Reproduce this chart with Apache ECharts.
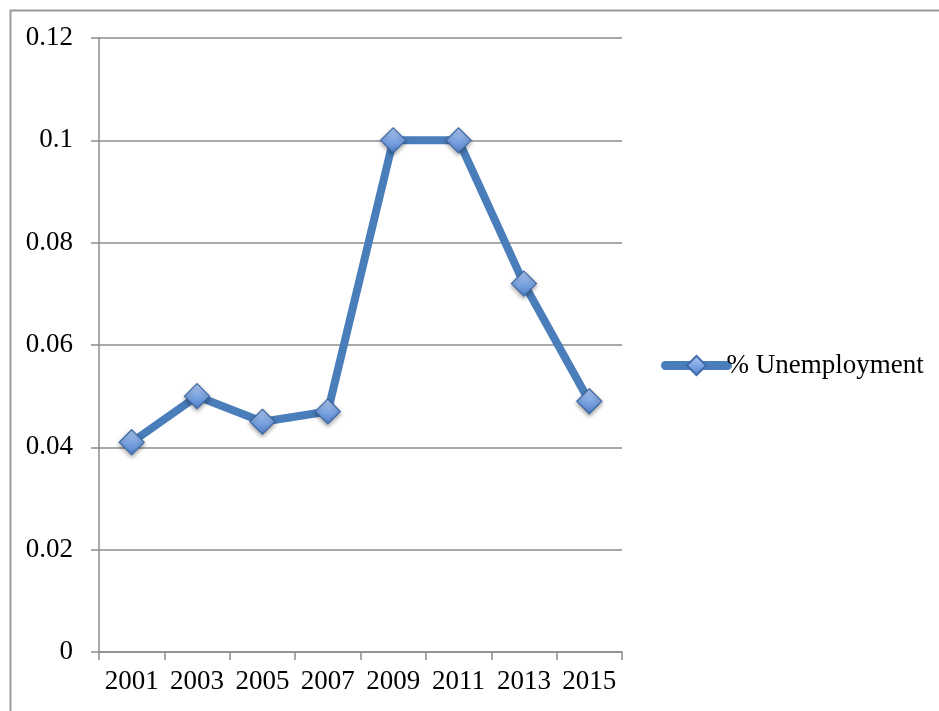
<!DOCTYPE html>
<html><head><meta charset="utf-8">
<script src="https://cdn.jsdelivr.net/npm/echarts@6/dist/echarts.min.js"></script>
<style>html,body{margin:0;padding:0;background:#fff}#c{width:939px;height:711px}</style>
</head><body><div id="c"></div>
<script>
const years = ['2001','2003','2005','2007','2009','2011','2013','2015'];
const unemployment = [0.041, 0.050, 0.045, 0.047, 0.100, 0.100, 0.072, 0.049];
const seriesName = '% Unemployment';
const yTicks = {min: 0, max: 0.12, interval: 0.02};

const font = 'Liberation Serif';
const chart = echarts.init(document.getElementById('c'), null, {renderer: 'canvas'});
const markerFill = new echarts.graphic.LinearGradient(0, 0, 0, 1, [
  {offset: 0, color: '#b4cff5'},
  {offset: 0.5, color: '#7ea6e3'},
  {offset: 1, color: '#4f7fc8'}
]);
chart.setOption({
  backgroundColor: '#fff',
  animation: false,
  graphic: [{
    type: 'rect', left: 8, top: 8, silent: true,
    shape: {width: 960, height: 740},
    style: {fill: 'none', stroke: '#9a9a9a', lineWidth: 2}
  }],
  grid: {left: 99, right: 317, top: 38, bottom: 59},
  legend: {
    left: 656, top: 347,
    itemWidth: 62, itemHeight: 24, itemGap: 0,
    lineStyle: {width: 9, cap: 'round', color: '#4a7ebb'},
    textStyle: {fontFamily: font, fontSize: 27, color: '#000', padding: [0,0,0,-6]},
    data: [seriesName]
  },
  xAxis: {
    type: 'category', data: years, boundaryGap: true,
    axisLine: {lineStyle: {color: '#8c8c8c', width: 1.5}},
    axisTick: {show: true, length: 8, lineStyle: {color: '#8c8c8c', width: 1.5}, alignWithLabel: false},
    axisLabel: {fontFamily: font, fontSize: 27, color: '#000', margin: 16, interval: 0}
  },
  yAxis: {
    type: 'value', min: yTicks.min, max: yTicks.max, interval: yTicks.interval,
    axisLine: {show: true, lineStyle: {color: '#8c8c8c', width: 1.5}},
    axisTick: {show: true, length: 8, lineStyle: {color: '#8c8c8c', width: 1.5}},
    splitLine: {lineStyle: {color: '#8c8c8c', width: 1.5}},
    axisLabel: {fontFamily: font, fontSize: 27, color: '#000', margin: 26}
  },
  series: [{
    name: seriesName, type: 'line', data: unemployment,
    symbol: 'diamond', symbolSize: 25,
    lineStyle: {color: '#4a7ebb', width: 8},
    itemStyle: {color: markerFill, borderColor: '#3d69a6', borderWidth: 1.2,
      shadowColor: 'rgba(0,0,0,0.35)', shadowBlur: 4, shadowOffsetY: 2},
    color: '#4a7ebb'
  }]
});
</script></body></html>
